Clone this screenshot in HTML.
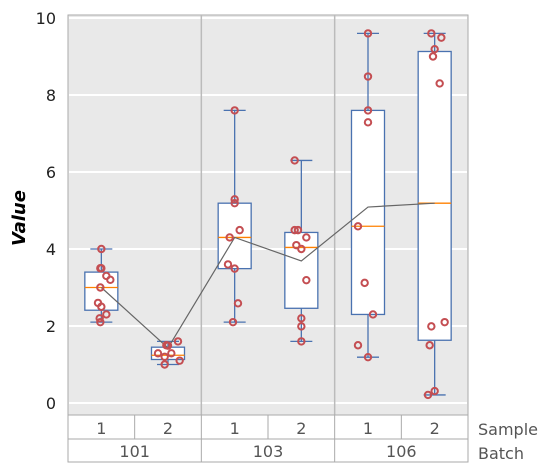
<!DOCTYPE html>
<html><head><meta charset="utf-8"><style>
body{margin:0;background:#fff;font-family:"DejaVu Sans","Liberation Sans",sans-serif}
</style></head><body>
<svg id="chart" width="555" height="472" xmlns="http://www.w3.org/2000/svg"></svg>
<script>
const samples=["1","2","1","2","1","2"];
const batches=["101","103","106"];
const yTicks=[0,2,4,6,8,10];
const whiskLo=[2.1,1.0,2.1,1.6,1.19,0.21];
const q1=[2.41,1.13,3.49,2.46,2.3,1.63];
const med=[3.0,1.24,4.3,4.04,4.59,5.19];
const q3=[3.4,1.45,5.19,4.43,7.6,9.13];
const whiskHi=[4.0,1.6,7.6,6.3,9.6,9.6];
const means=[3.0,1.43,4.3,3.69,5.09,5.19];
const pts=[
 [4.0,3.5,3.5,3.3,3.2,3.0,2.6,2.5,2.3,2.2,2.1],
 [1.6,1.5,1.49,1.29,1.29,1.2,1.1,1.0],
 [7.6,5.29,5.19,4.49,4.3,3.6,3.49,2.59,2.1],
 [6.3,4.49,4.49,4.3,4.1,4.0,3.19,2.2,1.99,1.6],
 [9.6,8.48,7.6,7.29,4.59,3.12,2.3,1.5,1.19],
 [9.6,9.49,9.19,9.0,8.3,2.1,1.99,1.5,0.31,0.21]];
const jit=[
 [0,-.03,0,.15,.27,-.03,-.1,0,.15,-.05,-.03],
 [.3,-.05,0,-.3,.1,-.1,.35,-.1],
 [0,0,0,.15,-.15,-.2,0,.1,-.05],
 [-.2,-.2,-.1,.15,-.15,0,.15,0,0,0],
 [0,0,0,0,-.3,-.1,.15,-.3,0],
 [-.1,.2,0,-.05,.15,.3,-.1,-.15,0,-.2]];
const svg=document.getElementById('chart');
const NS='http://www.w3.org/2000/svg';
function mk(t,a,p){const e=document.createElementNS(NS,t);for(const k in a)e.setAttribute(k,a[k]);(p||svg).appendChild(e);return e;}
const L=68,R=468,T=15,B=415;
const y=v=>403-38.5*v;
const bw=(R-L)/6;
const xc=i=>L+bw*(i+0.5);
let e=mk('rect',{x:L,y:T,width:R-L,height:B-T,fill:'#e9e9e9',stroke:'#aaa','stroke-width':1});

yTicks.forEach(v=>{
 let g=mk('line',{x1:L+1,x2:R-1,y1:y(v),y2:y(v),stroke:'#fff','stroke-width':2});
 
 let t=mk('text',{x:56,y:y(v)+6,'text-anchor':'end','font-size':16,fill:'#222'});t.textContent=v;
 
});
[1,2].forEach(k=>{let s=mk('line',{x1:L+bw*2*k,x2:L+bw*2*k,y1:T,y2:B,stroke:'#bbb','stroke-width':1.5});
 });
for(let i=0;i<6;i++){
 const c=xc(i),h=16.5;
 const g=mk('g',{});
 mk('line',{x1:c,x2:c,y1:y(whiskHi[i]),y2:y(q3[i]),stroke:'#4a72b0','stroke-width':1.3},g);
 mk('line',{x1:c,x2:c,y1:y(q1[i]),y2:y(whiskLo[i]),stroke:'#4a72b0','stroke-width':1.3},g);
 mk('line',{x1:c-11,x2:c+11,y1:y(whiskHi[i]),y2:y(whiskHi[i]),stroke:'#4a72b0','stroke-width':1.3},g);
 mk('line',{x1:c-11,x2:c+11,y1:y(whiskLo[i]),y2:y(whiskLo[i]),stroke:'#4a72b0','stroke-width':1.3},g);
 mk('rect',{x:c-h,y:y(q3[i]),width:2*h,height:y(q1[i])-y(q3[i]),fill:'#fff',stroke:'#4a72b0','stroke-width':1.3},g);
 mk('line',{x1:c-h,x2:c+h,y1:y(med[i]),y2:y(med[i]),stroke:'#ff8000','stroke-width':1.3},g);
}
let d=means.map((m,i)=>(i?'L':'M')+xc(i)+','+y(m)).join(' ');
e=mk('path',{d:d,fill:'none',stroke:'#666','stroke-width':1.2});

pts.forEach((arr,i)=>arr.forEach((v,j)=>{
 let p=mk('circle',{cx:xc(i)+jit[i][j]*bw/2,cy:y(v),r:3.2,fill:'none',stroke:'#c44e52','stroke-width':2});
 
}));
e=mk('rect',{x:L,y:B,width:R-L,height:47,fill:'#fff',stroke:'#aaa','stroke-width':1});

mk('line',{x1:L,x2:R,y1:439,y2:439,stroke:'#aaa'});
for(let i=1;i<6;i++){mk('line',{x1:L+bw*i,x2:L+bw*i,y1:B,y2:i%2==0?462:439,stroke:'#aaa'});}
samples.forEach((s,i)=>{let t=mk('text',{x:xc(i),y:434,'text-anchor':'middle','font-size':16,fill:'#555'});t.textContent=s;
 });
batches.forEach((s,i)=>{let t=mk('text',{x:L+bw*(2*i+1),y:457,'text-anchor':'middle','font-size':16,fill:'#555'});t.textContent=s;
 });
e=mk('text',{x:478,y:435,'font-size':16,fill:'#555'});e.textContent='Sample';

e=mk('text',{x:478,y:459,'font-size':16,fill:'#555'});e.textContent='Batch';

e=mk('text',{x:0,y:0,'font-size':18,'font-weight':'bold','font-style':'italic','text-anchor':'middle',transform:'translate(25,218) rotate(-90)',fill:'#000'});
e.textContent='Value';
</script>
</body></html>
